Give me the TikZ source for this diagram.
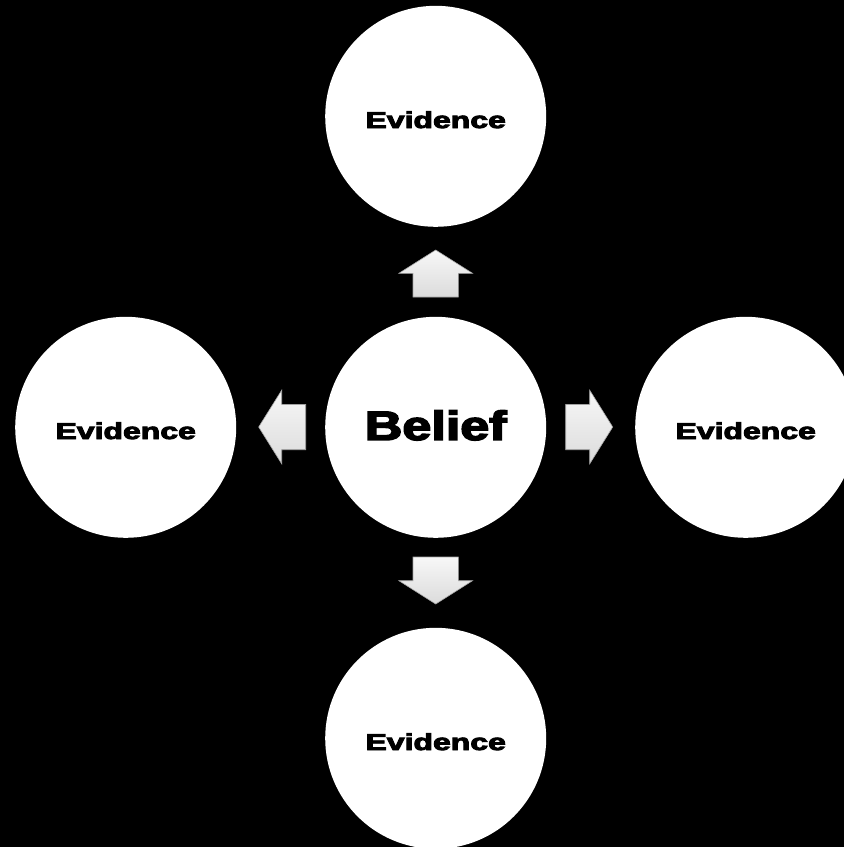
\documentclass[tikz,border=0pt]{standalone}
\usepackage{fontspec}
\usepackage{graphicx}
\setmainfont{Liberation Sans}
\newfontfamily\heavyfont[FakeBold=3.5]{Liberation Sans Bold}
\begin{document}
\begin{tikzpicture}[x=1pt,y=-1pt,
  bubble/.style={circle, fill=white, minimum size=221pt, inner sep=0pt},
  evtext/.style={inner sep=0pt, font=\fontsize{23}{25}\heavyfont},
  mainword/.style={inner sep=0pt, font=\fontsize{41}{45}\heavyfont},
  blockarrow/.style={draw=black!35, line width=0.6pt, top color=black!3, bottom color=black!14}]
  % black canvas
  \fill[black] (0,0) rectangle (844,847);
  \useasboundingbox (0,0) rectangle (844,847);

  % circles
  \node[bubble] (belief) at (435.7,427.3) {};
  \node[bubble] (top)    at (435.7,116.3) {};
  \node[bubble] (bottom) at (435.7,738.3) {};
  \node[bubble] (left)   at (125.7,427.3) {};
  \node[bubble] (right)  at (745.7,427.3) {};

  % labels
  \node[mainword] (beliefText) at ([yshift=2pt]belief.center) {\scalebox{1.27}[1]{Belief}};
  \node[evtext] (topText)    at ([yshift=-3.5pt]top.center)    {\scalebox{1.39}[1]{Evidence}};
  \node[evtext] (bottomText) at ([yshift=-3.5pt]bottom.center) {\scalebox{1.39}[1]{Evidence}};
  \node[evtext] (leftText)   at ([yshift=-3.5pt]left.center)   {\scalebox{1.39}[1]{Evidence}};
  \node[evtext] (rightText)  at ([yshift=-3.5pt]right.center)  {\scalebox{1.39}[1]{Evidence}};

  % block arrows pointing outward from the centre
  \path[blockarrow] (435.7,250) -- (472.5,273.3) -- (458.4,273.3) -- (458.4,297)
    -- (413,297) -- (413,273.3) -- (398.9,273.3) -- cycle;
  \path[blockarrow] (435.7,604) -- (472.5,580.7) -- (458.4,580.7) -- (458.4,557)
    -- (413,557) -- (413,580.7) -- (398.9,580.7) -- cycle;
  \path[blockarrow] (258.7,427) -- (281.7,390.2) -- (281.7,404.3) -- (305.7,404.3)
    -- (305.7,449.7) -- (281.7,449.7) -- (281.7,463.8) -- cycle;
  \path[blockarrow] (612.7,427) -- (589.7,390.2) -- (589.7,404.3) -- (565.7,404.3)
    -- (565.7,449.7) -- (589.7,449.7) -- (589.7,463.8) -- cycle;
\end{tikzpicture}
\end{document}
